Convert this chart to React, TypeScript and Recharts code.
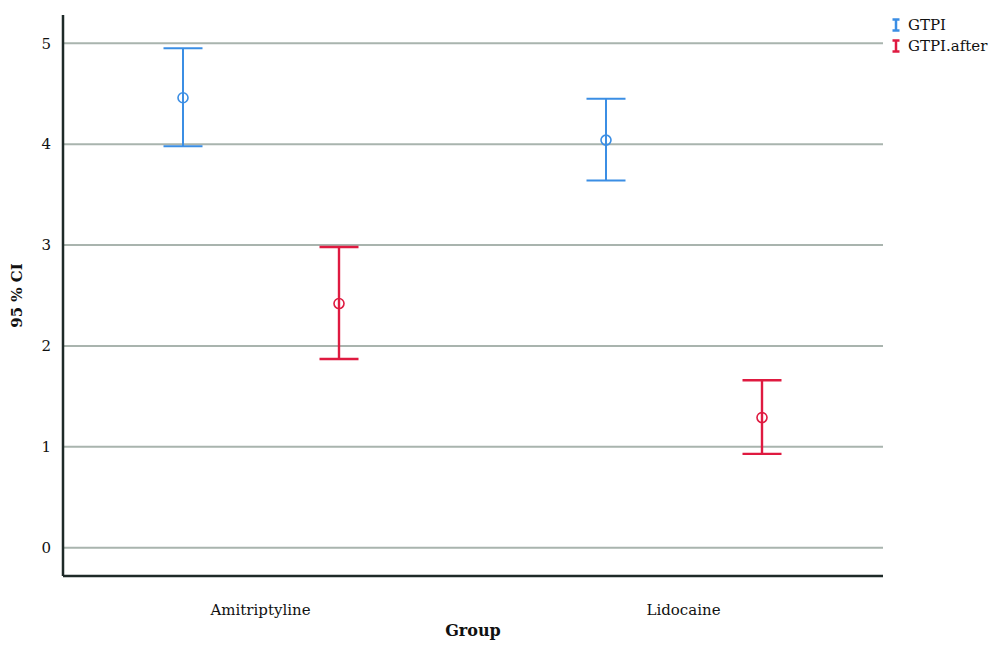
import React from "react";
import {
  Bar,
  CartesianGrid,
  ComposedChart,
  ErrorBar,
  Label,
  XAxis,
  YAxis,
} from "recharts";

// Estimated means and 95% CI bounds per group
const groups = ["Amitriptyline", "Lidocaine"];
const gtpiMean = [4.46, 4.04];
const gtpiLow = [3.98, 3.64];
const gtpiHigh = [4.95, 4.45];
const afterMean = [2.42, 1.29];
const afterLow = [1.87, 0.93];
const afterHigh = [2.98, 1.66];
const yTicks = [0, 1, 2, 3, 4, 5];

const BLUE = "#3b8ee4";
const RED = "#df1a40";
const FONT = "'DejaVu Serif', serif";

const data = groups.map((g, i) => ({
  group: g,
  gtpi: gtpiMean[i],
  gtpiErr: [gtpiMean[i] - gtpiLow[i], gtpiHigh[i] - gtpiMean[i]],
  after: afterMean[i],
  afterErr: [afterMean[i] - afterLow[i], afterHigh[i] - afterMean[i]],
}));

function meanDot(color: string) {
  return (props: any) => {
    const { x, y, width } = props;
    if (x == null || y == null) return <g />;
    return (
      <circle
        cx={x + width / 2}
        cy={y}
        r={5}
        fill="none"
        stroke={color}
        strokeWidth={1.6}
      />
    );
  };
}

function LegendBox() {
  const items = [
    { name: "GTPI", color: BLUE },
    { name: "GTPI.after", color: RED },
  ];
  return (
    <div style={{ position: "absolute", left: 890, top: 14, fontFamily: FONT, fontSize: 15 }}>
      {items.map((it) => (
        <div key={it.name} style={{ display: "flex", alignItems: "center", height: 21 }}>
          <svg width={12} height={14} style={{ marginRight: 6 }}>
            <line x1={2.5} y1={1.5} x2={9.5} y2={1.5} stroke={it.color} strokeWidth={2.5} />
            <line x1={6} y1={1.5} x2={6} y2={12.5} stroke={it.color} strokeWidth={2.5} />
            <line x1={2.5} y1={12.5} x2={9.5} y2={12.5} stroke={it.color} strokeWidth={2.5} />
          </svg>
          <span style={{ color: "#111" }}>{it.name}</span>
        </div>
      ))}
    </div>
  );
}

export default function App() {
  return (
    <div style={{ position: "absolute", left: 0, top: 0, width: 1000, height: 654, background: "#fff" }}>
      <ComposedChart
        width={1000}
        height={654}
        data={data}
        margin={{ top: 15, right: 117, bottom: 28, left: 0 }}
        barSize={40}
        barGap={116}
      >
        <CartesianGrid
          vertical={false}
          stroke="#a9b4ae"
          strokeWidth={2}
          horizontalValues={yTicks}
        />
        <XAxis
          dataKey="group"
          type="category"
          height={50}
          padding={{ left: -14, right: -12 }}
          axisLine={{ stroke: "#1e2a28", strokeWidth: 2.5 }}
          tickLine={false}
          tick={{ fill: "#111", fontSize: 15, fontFamily: FONT }}
          tickMargin={22}
        >
          <Label
            value="Group"
            position="insideBottom"
            offset={-10}
            style={{ fill: "#111", fontSize: 16, fontWeight: "bold", fontFamily: FONT }}
          />
        </XAxis>
        <YAxis
          type="number"
          domain={[-0.28, 5.28]}
          ticks={yTicks}
          width={63}
          allowDataOverflow
          axisLine={{ stroke: "#1e2a28", strokeWidth: 2.5 }}
          tickLine={false}
          tickMargin={6}
          tick={{ fill: "#111", fontSize: 15, fontFamily: FONT }}
        >
          <Label
            value="95 % CI"
            angle={-90}
            position="insideLeft"
            offset={17}
            style={{ fill: "#111", fontSize: 15, fontWeight: "bold", fontFamily: FONT, textAnchor: "middle" }}
          />
        </YAxis>
        <Bar
          dataKey="gtpi"
          fill="none"
          shape={meanDot(BLUE)}
          isAnimationActive={false}
        >
          <ErrorBar dataKey="gtpiErr" width={19.5} stroke={BLUE} strokeWidth={2} direction="y" />
        </Bar>
        <Bar
          dataKey="after"
          fill="none"
          shape={meanDot(RED)}
          isAnimationActive={false}
        >
          <ErrorBar dataKey="afterErr" width={19.5} stroke={RED} strokeWidth={2.4} direction="y" />
        </Bar>
      </ComposedChart>
      <LegendBox />
    </div>
  );
}
